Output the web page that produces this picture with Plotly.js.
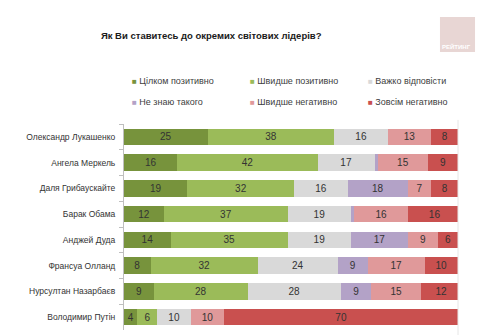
<!DOCTYPE html>
<html>
<head>
<meta charset="utf-8">
<script src="https://cdn.plot.ly/plotly-3.0.1.min.js"></script>
<style>
html,body{margin:0;padding:0;background:#fff;}
#chart{width:480px;height:335px;}
</style>
</head>
<body>
<div id="chart"></div>
<script>
const leaders = ["Олександр Лукашенко","Ангела Меркель","Даля Грибаускайте","Барак Обама","Анджей Дуда","Франсуа Олланд","Нурсултан Назарбаєв","Володимир Путін"];
const seriesNames = ["Цілком позитивно","Швидше позитивно","Важко відповісти","Не знаю такого","Швидше негативно","Зовсім негативно"];
const fullyPositive   = [25,16,19,12,14, 8, 9, 4];
const ratherPositive  = [38,42,32,37,35,32,28, 6];
const hardToSay       = [16,17,16,19,19,24,28,10];
const dontKnow        = [ 0, 1,18, 1,17, 9, 9, 0];
const ratherNegative  = [13,15, 7,16, 9,17,15,10];
const fullyNegative   = [ 8, 9, 8,16, 6,10,12,70];
const colors = ["#77933C","#9BBB59","#D9D9D9","#B3A2C7","#E0999A","#C9504F"];
const seriesValues = [fullyPositive, ratherPositive, hardToSay, dontKnow, ratherNegative, fullyNegative];

const FONT = "Liberation Sans, Arial, sans-serif";

const traces = seriesValues.map((vals, i) => ({
  type: "bar",
  orientation: "h",
  name: seriesNames[i],
  y: leaders,
  x: vals,
  marker: {color: colors[i], line: {width: 0}},
  text: vals.map(v => v >= 3 ? String(v) : ""),
  textposition: "inside",
  insidetextanchor: "middle",
  textangle: 0,
  constraintext: "none",
  textfont: {family: FONT, size: 10, color: "#333333"},
  hoverinfo: "name+x",
  showlegend: false
}));

// legend drawn as annotations (3 columns x 2 rows)
const legX = [0.018, 0.372, 0.724];
const legY = [1.21, 1.105];
const annotations = seriesNames.map((n, i) => ({
  xref: "paper", yref: "paper",
  x: legX[i % 3], y: legY[Math.floor(i / 3)],
  xanchor: "left", yanchor: "middle",
  showarrow: false,
  text: '<span style="color:' + colors[i] + ';font-size:8px">■</span> ' + n,
  font: {family: FONT, size: 9, color: "#404040"}
}));
annotations.push({
  xref: "paper", yref: "paper", x: 0.997, y: 1.375,
  xanchor: "center", yanchor: "middle", showarrow: false,
  text: "<b>РЕЙТИНГ</b>",
  font: {family: FONT, size: 6, color: "#ffffff"}
});

const layout = {
  width: 480, height: 335,
  margin: {l: 124, r: 22, t: 124, b: 5},
  paper_bgcolor: "#ffffff",
  plot_bgcolor: "#ffffff",
  barmode: "stack",
  bargap: 0.35,
  title: {
    text: "<b>Як Ви ставитесь до окремих світових лідерів?</b>",
    font: {family: FONT, size: 9.5, color: "#1a1a1a"},
    x: 0.44, xanchor: "center", y: 0.895, yanchor: "middle"
  },
  xaxis: {range: [0, 100], showticklabels: false, showgrid: false, zeroline: false, showline: false, fixedrange: true},
  yaxis: {
    autorange: "reversed",
    showline: true, linecolor: "#BFBFBF", linewidth: 1,
    ticks: "outside", ticklen: 4, tickcolor: "#BFBFBF", tickson: "boundaries",
    ticklabelstandoff: 6,
    showgrid: false,
    tickfont: {family: FONT, size: 8.5, color: "#333333"},
    fixedrange: true
  },
  shapes: [
    {type: "rect", xref: "paper", yref: "paper", x0: 0.946, x1: 1.051, y0: 1.350, y1: 1.519, fillcolor: "#E8D6D4", line: {width: 0}},
    {type: "line", xref: "paper", yref: "paper", x0: 1, x1: 1, y0: -0.03, y1: 1.02, line: {color: "#E6E6E6", width: 1}}
  ],
  annotations: annotations,
  showlegend: false
};

Plotly.newPlot("chart", traces, layout, {displayModeBar: false, staticPlot: true});
</script>
</body>
</html>
